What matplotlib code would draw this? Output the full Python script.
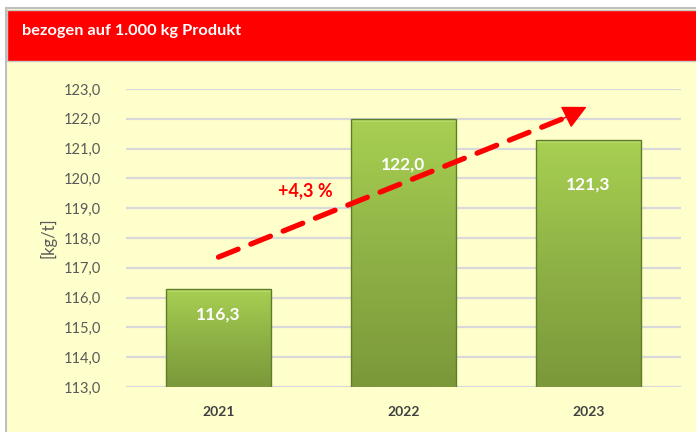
import numpy as np
import matplotlib
matplotlib.use("Agg")
from matplotlib import pyplot as plt
from matplotlib.colors import LinearSegmentedColormap
from matplotlib.patches import Rectangle

years = ["2021", "2022", "2023"]
values = [116.3, 122.0, 121.3]
value_labels = ["116,3", "122,0", "121,3"]
y_ticks = [113, 114, 115, 116, 117, 118, 119, 120, 121, 122, 123]
title = "bezogen auf 1.000 kg Produkt"
trend_label = "+4,3 %"

plt.rcParams["font.family"] = ["Lato", "DejaVu Sans"]

W, H = 696, 432
fig = plt.figure(figsize=(W / 100, H / 100), dpi=100)
fig.patch.set_facecolor("white")


def px(x0, y0, x1, y1):
    # figure fraction rectangle from pixel box (top-left origin)
    return (x0 / W, 1 - y1 / H, (x1 - x0) / W, (y1 - y0) / H)


# background panel, frame and red title band
bx, by, bw, bh = px(6, 8, W + 10, H + 10)
fig.patches.append(Rectangle((bx, by), bw, bh, transform=fig.transFigure,
                             facecolor="#FFFFCC", edgecolor="#BFBFBF", lw=1.5, zorder=-3))
tx, ty, tw, th = px(7, 10, W + 10, 61)
fig.patches.append(Rectangle((tx, ty), tw, th, transform=fig.transFigure,
                             facecolor="#FF0000", edgecolor="#C8C8C8", lw=1.0, zorder=-2))
fig.text(22 / W, 1 - 31 / H, title, color="white", fontsize=11.8,
         fontweight="bold", va="center", ha="left")

ax = fig.add_axes(px(126, 89, 681, 387))
ax.set_facecolor("none")
for s in ax.spines.values():
    s.set_visible(False)

x = np.arange(len(years))
bars = ax.bar(x, values, width=0.57, bottom=0, color="#93B845",
              edgecolor="none", zorder=3)

cmap = LinearSegmentedColormap.from_list("g", ["#7B983A", "#8FB246", "#A8D052"])
grad = np.linspace(0, 1, 256).reshape(-1, 1)
for b in bars:
    x0, w = b.get_x(), b.get_width()
    top = b.get_height()
    im = ax.imshow(grad, extent=[x0, x0 + w, y_ticks[0], top], origin="lower",
                   aspect="auto", cmap=cmap, zorder=3.5)
    im.set_clip_path(b)
    # bevel highlight at top
    ax.add_patch(Rectangle((x0, top - 0.1), w, 0.1, facecolor="#B9DC6A",
                           edgecolor="none", zorder=3.6, alpha=0.8))
# dark outline over the gradient
ax.bar(x, values, width=0.57, bottom=0, facecolor="none",
       edgecolor="#5E7D28", linewidth=1.0, zorder=3.8)

ax.set_xlim(-0.5, 2.5)
ax.set_ylim(y_ticks[0], y_ticks[-1])
ax.set_yticks(y_ticks)
ax.set_yticklabels([f"{t:.1f}".replace(".", ",") for t in y_ticks],
                   color="#595959", fontsize=10.5)
ax.set_xticks(x)
ax.set_xticklabels(years, fontweight="bold", color="#404040", fontsize=10)
ax.tick_params(axis="y", length=0, pad=18)
ax.tick_params(axis="x", length=0, pad=14)
ax.yaxis.grid(True, color="#D9D9DC", lw=1.6, zorder=1)
ax.set_axisbelow(True)
ax.set_ylabel("[kg/t]", color="#595959", fontsize=12, labelpad=5)

# value labels inside bars
drops = [26, 46, 45]
for xi, v, lab, d in zip(x, values, value_labels, drops):
    ax.annotate(lab, (xi, v), xytext=(0, -d * 0.72), textcoords="offset points",
                ha="center", va="center", color="white", fontweight="bold",
                fontsize=12.5, zorder=5)

# dashed trend arrow
start = (0.0, 117.36)
tip = (1.99, 122.4)
base = (1.86, 122.0)
ax.plot([start[0], base[0]], [start[1], base[1]], color="#FF0000", lw=3.8,
        ls=(0, (4, 2.6)), dash_capstyle="round", zorder=6)
ax.annotate("", xy=tip, xytext=base,
            arrowprops=dict(arrowstyle="-|>,head_length=1.5,head_width=0.75",
                            color="#FF0000", lw=1, shrinkA=0, shrinkB=0), zorder=6)
ax.text(0.47, 119.6, trend_label, color="#FF0000", fontweight="bold",
        fontsize=13, ha="center", va="center", zorder=6)

fig.savefig("out.png", dpi=100, facecolor=fig.get_facecolor())
